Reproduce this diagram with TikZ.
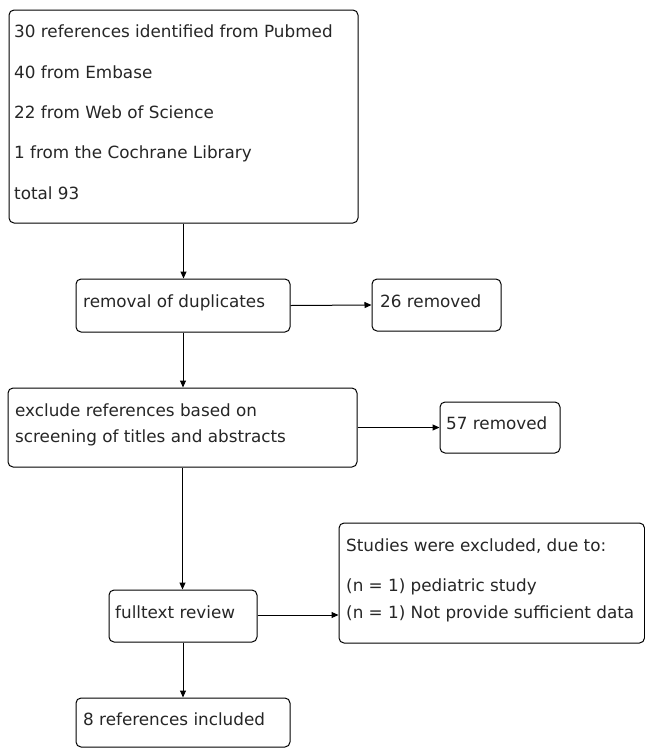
\documentclass[tikz,border=0pt]{standalone}
\usepackage{fontspec}
\setmainfont{DejaVu Sans}
\usetikzlibrary{arrows.meta}
\begin{document}
\begin{tikzpicture}[x=1pt,y=-1pt,
  box/.style={draw=black, line width=1pt, rounded corners=5pt, inner sep=0pt},
  txt/.style={anchor=west, inner sep=0pt, text height=12.2pt, text depth=0pt,
    font=\fontsize{16.8}{20}\selectfont, text=black!85},
  conn/.style={draw=black, line width=1pt, -{Triangle[length=7pt,width=6pt]}}]
\useasboundingbox[fill=white] (0,0) rectangle (645,748);
% boxes
\node[box, minimum width=349pt, minimum height=213pt] (b1) at (183.5,116.5) {};
\node[box, minimum width=214pt, minimum height=53pt] (b2) at (183,305.5) {};
\node[box, minimum width=129pt, minimum height=52pt] (r1) at (436.5,305) {};
\node[box, minimum width=349pt, minimum height=79pt] (b3) at (182.5,427.5) {};
\node[box, minimum width=120pt, minimum height=51pt] (r2) at (500,427.5) {};
\node[box, minimum width=148pt, minimum height=52pt] (b4) at (183,616) {};
\node[box, minimum width=305.5pt, minimum height=120pt] (r3) at (491.75,583) {};
\node[box, minimum width=214pt, minimum height=49pt] (b5) at (183,722.5) {};
% texts
\node[txt] (t11) at (14,31) {30 references identified from Pubmed};
\node[txt] (t12) at (14,72) {40 from Embase};
\node[txt] (t13) at (14,112) {22 from Web of Science};
\node[txt] (t14) at (14,152) {1 from the Cochrane Library};
\node[txt] (t15) at (14,193) {total 93};
\node[txt] (t2) at (83,301) {removal of duplicates};
\node[txt] (tr1) at (380,301) {26 removed};
\node[txt] (t31) at (15,410) {exclude references based on};
\node[txt] (t32) at (15,436) {screening of titles and abstracts};
\node[txt] (tr2) at (446,423) {57 removed};
\node[txt] (t4) at (115,612) {fulltext review};
\node[txt] (tr31) at (346,545) {Studies were excluded, due to:};
\node[txt] (tr32) at (346,585) {(n = 1) pediatric study};
\node[txt] (tr33) at (346,612) {(n = 1) Not provide sufficient data};
\node[txt] (t5) at (83,719) {8 references included};
% connectors
\draw[conn] (b1.south) -- (b1.south |- b2.north);
\draw[conn] (b2.east) -- (r1.west);
\draw[conn] (b2.south) -- (b2.south |- b3.north);
\draw[conn] (b3.east) -- (r2.west);
\draw[conn] (b3.south) -- (b3.south |- b4.north);
\draw[conn] ([yshift=1pt]b4.east) -- ([yshift=1pt]b4.east -| r3.west);
\draw[conn] (b4.south) -- (b4.south |- b5.north);
\end{tikzpicture}
\end{document}
